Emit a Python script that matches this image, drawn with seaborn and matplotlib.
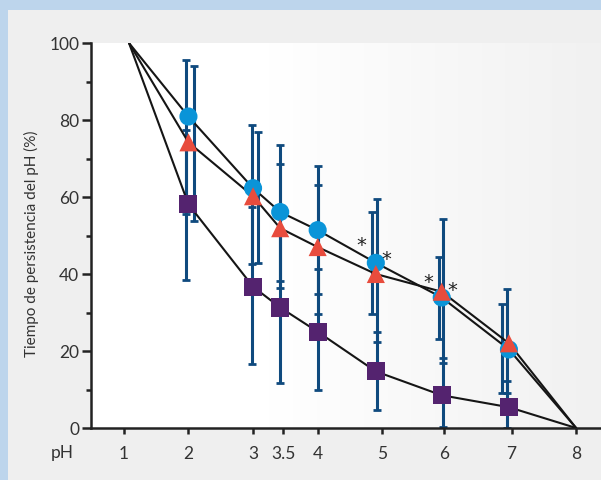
import matplotlib
matplotlib.use("Agg")
import matplotlib.pyplot as plt
from matplotlib.patches import Rectangle
import seaborn as sns
import numpy as np
import pandas as pd

# ---------------- data ----------------
ph_labels = ["1", "2", "3", "3.5", "4", "5", "6", "7", "8"]
ph_ticks = [1, 2, 3, 3.47, 4, 5, 5.95, 7, 8]

x_pts = [2, 3, 3.42, 4, 4.9, 5.92, 6.96]
x_start, y_start = 1.08, 100
x_end, y_end = 8, 0

circle_vals = [80.9, 62.3, 56.1, 51.4, 42.9, 33.9, 20.4]
circle_lo = [55.5, 42.6, 38.3, 34.7, 29.6, 23.0, 9.0]
circle_hi = [95.5, 78.6, 73.6, 68.0, 56.0, 44.5, 32.3]

triangle_vals = [74.2, 60.2, 51.9, 47.0, 40.0, 35.4, 22.0]
triangle_lo = [53.7, 42.8, 36.4, 29.7, 22.3, 17.0, 9.2]
triangle_hi = [94.0, 76.8, 68.6, 63.2, 59.4, 54.4, 36.2]

square_vals = [58.1, 36.7, 31.3, 25.0, 14.7, 8.5, 5.4]
square_lo = [38.5, 16.5, 11.8, 9.8, 4.7, 0.3, 0.0]
square_hi = [77.5, 57.3, 50.8, 41.4, 24.9, 18.1, 12.1]

# error-bar horizontal shifts (style)
circle_shift = [-0.03, -0.02, 0.0, 0.0, -0.06, -0.04, -0.10]
triangle_shift = [0.09, 0.07, 0.0, 0.0, 0.02, 0.02, -0.03]
square_shift = [-0.03, -0.02, 0.0, 0.0, 0.02, 0.02, -0.03]

star_x = [4.67, 5.06, 5.71, 6.08]
star_y = [47.6, 43.9, 38.0, 35.9]

ylabel = "Tiempo de persistencia del pH (%)"

# ---------------- style ----------------
sns.set_theme(style="ticks")
plt.rcParams["font.family"] = ["Lato", "DejaVu Sans"]

C_CIRC = "#0a94d8"
C_TRI = "#e84c3d"
C_SQ = "#54236f"
C_ERR = "#0f4a7e"
C_AX = "#222222"
C_TXT = "#333333"

W, H = 601, 481
fig = plt.figure(figsize=(W / 100, H / 100), dpi=100, facecolor="#efefef")
fig.patches.append(Rectangle((0, 0), 8 / W, 1, transform=fig.transFigure,
                             facecolor="#bdd5ec", edgecolor="none", zorder=0))
fig.patches.append(Rectangle((0, 1 - 11 / H), 1, 11 / H, transform=fig.transFigure,
                             facecolor="#bdd5ec", edgecolor="none", zorder=0))

ax = fig.add_axes([91 / W, (H - 429) / H, 510 / W, 385 / H])
ax.set_facecolor("white")
x0, x1 = 0.492, 8.385

# background gradient (white -> light gray to the right)
g = np.linspace(0, 1, 300)
vals = np.where(g < 0.35, 1.0, 1.0 - (g - 0.35) / 0.65 * 0.055)
img = np.dstack([vals, vals, vals]).repeat(2, axis=0)
ax.imshow(img, extent=[x0, x1, 0, 100], aspect="auto", zorder=0, interpolation="bilinear")

# error bars
for vals_, lo, hi, sh in [(square_vals, square_lo, square_hi, square_shift),
                          (circle_vals, circle_lo, circle_hi, circle_shift),
                          (triangle_vals, triangle_lo, triangle_hi, triangle_shift)]:
    xs = np.array(x_pts) + np.array(sh)
    v = np.array(vals_)
    yerr = np.vstack([v - np.array(lo), np.array(hi) - v])
    ax.errorbar(xs, v, yerr=yerr, fmt="none", ecolor=C_ERR, elinewidth=2.2,
                capsize=3.2, capthick=2.0, zorder=2)

# lines
rows = []
for name, vals_ in [("sq", square_vals), ("circ", circle_vals), ("tri", triangle_vals)]:
    xs = [x_start] + x_pts + [x_end]
    ys = [y_start] + vals_ + [y_end]
    for i, (a, b) in enumerate(zip(xs, ys)):
        rows.append({"serie": name, "x": a, "y": b, "order": i})
lines_df = pd.DataFrame(rows)
sns.lineplot(data=lines_df, x="x", y="y", units="serie", estimator=None, sort=False,
             color="#151515", linewidth=1.5, ax=ax, zorder=3, legend=False)

# markers
pts = []
for name, vals_ in [("sq", square_vals), ("circ", circle_vals), ("tri", triangle_vals)]:
    for a, b in zip(x_pts, vals_):
        pts.append({"serie": name, "x": a, "y": b})
pts_df = pd.DataFrame(pts)
sns.scatterplot(data=pts_df, x="x", y="y", hue="serie", style="serie",
                palette={"sq": C_SQ, "circ": C_CIRC, "tri": C_TRI},
                markers={"sq": "s", "circ": "o", "tri": "^"},
                s=170, linewidth=0, ax=ax, zorder=4, legend=False)

for sx, sy in zip(star_x, star_y):
    ax.text(sx, sy, "*", ha="center", va="center", fontsize=14, color="#222222",
            family="DejaVu Sans", zorder=5)

ax.set_xlim(x0, x1)
ax.set_ylim(0, 100)
ax.set_xlabel("")
ax.set_ylabel("")

for s in ["top", "right"]:
    ax.spines[s].set_visible(False)
for s in ["left", "bottom"]:
    ax.spines[s].set_color(C_AX)
    ax.spines[s].set_linewidth(1.8)

ax.set_yticks([0, 20, 40, 60, 80, 100])
ax.set_yticks([10, 30, 50, 70, 90], minor=True)
ax.set_xticks(ph_ticks)
ax.set_xticklabels(ph_labels)
ax.tick_params(axis="y", which="major", direction="out", length=6.5, width=1.8,
               color=C_AX, labelsize=12.5, labelcolor=C_TXT, pad=2)
ax.tick_params(axis="y", which="minor", direction="out", length=3.5, width=1.8,
               color=C_AX, left=True)
ax.tick_params(axis="x", which="major", direction="out", length=4, width=1.8,
               color=C_AX, labelsize=12.5, labelcolor=C_TXT, pad=8)

fig.text(62 / W, 1 - 453 / H, "pH", ha="center", va="center", fontsize=12.5, color=C_TXT)
fig.text(31 / W, 1 - 244 / H, ylabel, ha="center", va="center", rotation=90,
         fontsize=11, color=C_TXT)

fig.savefig("out.png", dpi=100, facecolor=fig.get_facecolor())
